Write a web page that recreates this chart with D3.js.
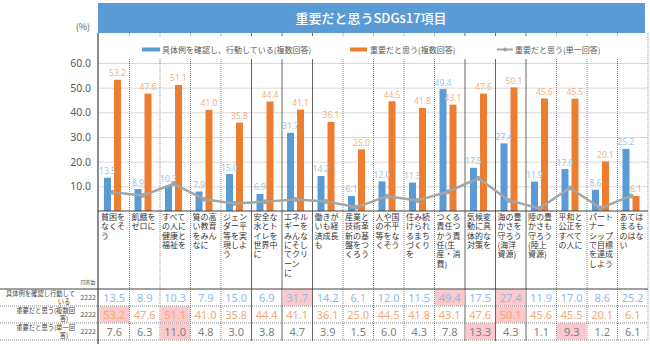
<!DOCTYPE html>
<html>
<head>
<meta charset="utf-8">
<script src="https://cdn.jsdelivr.net/npm/d3@7"></script>
<style>
  body { margin: 0; background: #fff; }
  svg { display: block; font-family: "Noto Sans CJK JP", "Noto Sans", sans-serif; }
</style>
</head>
<body>
<div id="chart"></div>
<script>
// SDGs: 17 goals + "none"
const categories = [
  ["貧困を", "なくそ", "う"],
  ["飢餓を", "ゼロに"],
  ["すべて", "の人に", "健康と", "福祉を"],
  ["質の高", "い教育", "をみん", "なに"],
  ["ジェン", "ダー平", "等を実", "現しよ", "う"],
  ["安全な", "水とト", "イレを", "世界中", "に"],
  ["エネル", "ギーを", "みんな", "にそし", "てクリ", "ーン", "に"],
  ["働きが", "いも経", "済成長", "も"],
  ["産業と", "技術革", "新の基", "盤をつ", "くろう"],
  ["人や国", "の不平", "等をな", "くそう"],
  ["住み続", "けられ", "るまち", "づくり", "を"],
  ["つくる", "責任つ", "かう責", "任(生", "産・消", "費)"],
  ["気候変", "動に具", "体的な", "対策を"],
  ["海の豊", "かさを", "守ろう", "(海洋", "資源)"],
  ["陸の豊", "かさも", "守ろう", "(陸上", "資源)"],
  ["平和と", "公正を", "すべて", "の人に"],
  ["パート", "ナー", "シップ", "で目標", "を達成", "しよう"],
  ["あては", "まるも", "のはな", "い"]
]
const acting   = [13.5, 8.9, 10.3, 7.9, 15.0, 6.9, 31.7, 14.2, 6.1, 12.0, 11.5, 49.4, 17.5, 27.4, 11.9, 17.0, 8.6, 25.2]
const multiple = [53.2, 47.6, 51.1, 41.0, 35.8, 44.4, 41.1, 36.1, 25.0, 44.5, 41.8, 43.1, 47.6, 50.1, 45.6, 45.5, 20.1, 6.1]
const single   = [7.6, 6.3, 11.0, 4.8, 3.0, 3.8, 4.7, 3.9, 1.5, 6.0, 4.3, 7.8, 13.3, 4.3, 1.1, 9.3, 1.2, 6.1]
const yTicks = [10, 20, 30, 40, 50, 60]
const respondents = 2222

const seriesNames = ["具体例を確認し、行動している(複数回答)", "重要だと思う(複数回答)", "重要だと思う(単一回答)"]
const rowLabels = [
  ["具体例を確認し行動して", "いる"],
  ["重要だと思う(複数回", "答)"],
  ["重要だと思う(単一回", "答)"]
]

const width = 650, height = 344
const plotLeft = 99, plotRight = 648, plotTop = 33
const blue = "#5b9bd5", orange = "#ed7d31", grey = "#a5a5a5"

const svg = d3.select("#chart").append("svg")
  .attr("width", width)
  .attr("height", height)

const idx = d3.range(categories.length)
const x = d3.scaleBand().domain(idx).range([plotLeft, plotRight])
const sub = d3.scaleBand().domain(["a", "m"]).range([5, 22]).paddingInner(0.3)
const y = d3.scaleLinear().domain([0, 60]).range([211, 63])

// title bar
svg.append("rect")
  .attr("x", 98).attr("y", 3)
  .attr("width", 547).attr("height", 30)
  .attr("fill", blue)
svg.append("text")
  .attr("x", 371).attr("y", 23)
  .attr("text-anchor", "middle")
  .attr("fill", "#fff")
  .attr("font-size", 13)
  .attr("font-weight", 500)
  .text("重要だと思うSDGs17項目")

svg.append("text")
  .attr("x", 90).attr("y", 30)
  .attr("text-anchor", "end")
  .attr("fill", "#595959")
  .attr("font-size", 9)
  .text("(%)")

// gridlines + tick labels
const yAxis = d3.axisLeft(y)
  .tickValues(yTicks)
  .tickSize(-(plotRight - plotLeft))
  .tickFormat(d3.format(".1f"))
svg.append("g")
  .attr("transform", `translate(${plotLeft},0)`)
  .call(yAxis)
  .call(g => g.select(".domain").remove())
  .call(g => g.selectAll("line").attr("stroke", "#d9d9d9"))
  .call(g => g.selectAll("text")
    .attr("x", -8)
    .attr("fill", "#595959")
    .attr("font-size", 10.5)
    .attr("font-family", "Noto Sans, sans-serif"))

// column dividers, some drawn solid
const solid = [5, 6, 7, 12, 13, 14]
svg.append("g").selectAll("line")
  .data(d3.range(1, categories.length + 1))
  .join("line")
    .attr("x1", k => k < categories.length ? x(k) : plotRight)
    .attr("x2", k => k < categories.length ? x(k) : plotRight)
    .attr("y1", plotTop)
    .attr("y2", 341)
    .attr("stroke", k => solid.includes(k) ? "#404040" : "#555")
    .attr("stroke-width", k => solid.includes(k) ? 0.8 : 0.7)
    .attr("stroke-dasharray", k => solid.includes(k) ? null : "1,1")

// legend box
svg.append("rect")
  .attr("x", plotLeft + 1).attr("y", 36)
  .attr("width", plotRight - plotLeft - 3).attr("height", 23)
  .attr("fill", "#fff")

const legend = svg.append("g").attr("font-size", 8).attr("fill", "#595959")
const legendX = [142, 350, 497]
legend.append("rect").attr("x", legendX[0]).attr("y", 47.5).attr("width", 18).attr("height", 4).attr("fill", blue)
legend.append("rect").attr("x", legendX[1]).attr("y", 47.5).attr("width", 17).attr("height", 4).attr("fill", orange)
legend.append("line").attr("x1", legendX[2]).attr("x2", legendX[2] + 16).attr("y1", 49.5).attr("y2", 49.5)
  .attr("stroke", grey).attr("stroke-width", 2)
legend.append("circle").attr("cx", legendX[2] + 8).attr("cy", 49.5).attr("r", 2).attr("fill", grey)
legend.selectAll("text")
  .data(seriesNames)
  .join("text")
    .attr("x", (d, i) => legendX[i] + (i == 2 ? 18 : 20))
    .attr("y", 53)
    .text(d => d)

// bars
const plot = svg.append("g")
plot.selectAll(".bar-a")
  .data(acting)
  .join("rect")
    .attr("class", "bar-a")
    .attr("x", (d, i) => x(i) + sub("a"))
    .attr("y", d => y(d))
    .attr("width", sub.bandwidth())
    .attr("height", d => y(0) - y(d))
    .attr("fill", blue)
plot.selectAll(".bar-m")
  .data(multiple)
  .join("rect")
    .attr("class", "bar-m")
    .attr("x", (d, i) => x(i) + sub("m"))
    .attr("y", d => y(d))
    .attr("width", sub.bandwidth())
    .attr("height", d => y(0) - y(d))
    .attr("fill", orange)

// bar value labels
plot.selectAll(".lab-a")
  .data(acting)
  .join("text")
    .attr("class", "lab-a")
    .attr("x", (d, i) => x(i) + sub("a") + sub.bandwidth() / 2)
    .attr("y", d => y(d) - 3.5)
    .attr("text-anchor", "middle")
    .attr("font-size", 8.5)
    .attr("font-family", "Noto Sans, sans-serif")
    .attr("fill", "#9dc3e6")
    .text(d => d.toFixed(1))
plot.selectAll(".lab-m")
  .data(multiple)
  .join("text")
    .attr("class", "lab-m")
    .attr("x", (d, i) => x(i) + sub("m") + sub.bandwidth() / 2)
    .attr("y", d => y(d) - 3.5)
    .attr("text-anchor", "middle")
    .attr("font-size", 8.5)
    .attr("font-family", "Noto Sans, sans-serif")
    .attr("fill", "#f4b183")
    .text(d => d.toFixed(1))

// single-answer line
const mid = (sub("a") + sub("m") + sub.bandwidth()) / 2
const line = d3.line()
  .x((d, i) => x(i) + mid)
  .y(d => y(d))
plot.append("path")
  .datum(single)
  .attr("d", line)
  .attr("fill", "none")
  .attr("stroke", grey)
  .attr("stroke-width", 2.5)
  .attr("stroke-linejoin", "round")
plot.selectAll(".dot")
  .data(single)
  .join("circle")
    .attr("class", "dot")
    .attr("cx", (d, i) => x(i) + mid)
    .attr("cy", d => y(d))
    .attr("r", 2.5)
    .attr("fill", grey)

// axis lines
svg.append("line").attr("x1", 98).attr("x2", 98).attr("y1", plotTop).attr("y2", height)
  .attr("stroke", "#404040").attr("stroke-width", 1.2)
svg.append("line").attr("x1", 98).attr("x2", plotRight).attr("y1", y(0)).attr("y2", y(0))
  .attr("stroke", "#404040").attr("stroke-width", 1)

// category names, wrapped three characters a line
svg.append("g").selectAll("g")
  .data(categories)
  .join("g")
    .attr("transform", (d, i) => `translate(${x(i) + 2},0)`)
    .selectAll("text")
    .data(d => d)
    .join("text")
      .attr("y", (d, i) => 220 + i * 9.3)
      .attr("font-size", 8)
      .attr("fill", "#333")
      .text(d => d)

// data table
const rows = [acting, multiple, single]
const rowColors = ["#8fbbe8", "#f4a872", "#7f7f7f"]
const rowTop = [289, 306, 323]
const rowH = 17

svg.append("text")
  .attr("x", 88).attr("y", 284)
  .attr("text-anchor", "middle")
  .attr("font-size", 5)
  .attr("fill", "#595959")
  .text("回答数")

rows.forEach((vals, r) => {
  const top3 = vals.slice().sort((a, b) => b - a)[2]
  const g = svg.append("g")
  g.selectAll("rect")
    .data(vals)
    .join("rect")
      .attr("x", (d, i) => x(i) + 0.5)
      .attr("y", rowTop[r] + 0.5)
      .attr("width", x.bandwidth() - 1)
      .attr("height", rowH - 1)
      .attr("fill", d => d >= top3 ? "#fbc8cd" : "none")
  g.selectAll("text")
    .data(vals)
    .join("text")
      .attr("x", (d, i) => x(i) + x.bandwidth() / 2)
      .attr("y", rowTop[r] + 13)
      .attr("text-anchor", "middle")
      .attr("font-size", 11)
      .attr("font-family", "Noto Sans, sans-serif")
      .attr("fill", rowColors[r])
      .text(d => d.toFixed(1))

  g.append("text")
    .attr("x", 96).attr("y", rowTop[r] + 11)
    .attr("text-anchor", "end")
    .attr("font-size", 7)
    .attr("fill", "#595959")
    .text(respondents)
  g.append("text")
    .attr("x", 75).attr("y", rowTop[r] + 7)
    .attr("text-anchor", "end")
    .attr("font-size", 6.3)
    .attr("fill", "#404040")
    .text(rowLabels[r][0])
  g.append("text")
    .attr("x", 64).attr("y", rowTop[r] + 15)
    .attr("text-anchor", "middle")
    .attr("font-size", 6.3)
    .attr("fill", "#404040")
    .text(rowLabels[r][1])
})

// table rules
svg.append("line").attr("x1", 0).attr("x2", plotRight).attr("y1", 289).attr("y2", 289)
  .attr("stroke", "#404040").attr("stroke-width", 1)
svg.append("g").selectAll("line")
  .data([306, 323, 340])
  .join("line")
    .attr("x1", 0).attr("x2", plotRight)
    .attr("y1", d => d).attr("y2", d => d)
    .attr("stroke", "#555")
    .attr("stroke-width", 0.7)
    .attr("stroke-dasharray", "1,1")
</script>
</body>
</html>
